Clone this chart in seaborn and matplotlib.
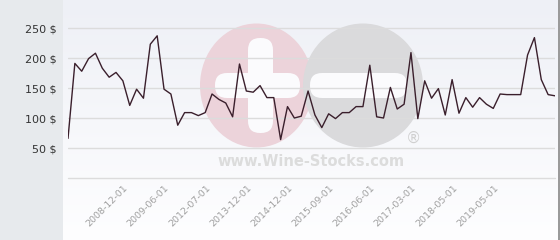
import numpy as np
import pandas as pd
import matplotlib
matplotlib.use("Agg")
import matplotlib.pyplot as plt
from matplotlib.patches import Ellipse, FancyBboxPatch, Rectangle
import seaborn as sns

# ---- data ----
prices = [66, 191, 178, 199, 208, 183, 168, 176, 162, 121, 148, 133, 223, 237, 148, 140,
          88, 109, 109, 104, 109, 140, 131, 125, 102, 190, 145, 143, 154, 134, 134, 64,
          119, 100, 103, 145, 105, 84, 107, 99, 109, 109, 119, 119, 188, 102, 100, 151,
          115, 123, 209, 99, 162, 133, 149, 105, 164, 108, 134, 118, 134, 123, 116, 140,
          139, 139, 139, 205, 234, 164, 139, 137]
tick_labels = ["2008-12-01", "2009-06-01", "2012-07-01", "2013-12-01", "2014-12-01",
               "2015-09-01", "2016-06-01", "2017-03-01", "2018-05-01", "2019-05-01"]
tick_start = 9
tick_step = 6
y_ticks = [50, 100, 150, 200, 250]

df = pd.DataFrame({"idx": np.arange(len(prices)), "price": prices})

sns.set_theme(style="white")
plt.rcParams['font.family'] = ['DejaVu Sans']

W, H = 560, 240
fig = plt.figure(figsize=(W / 100, H / 100), dpi=100)
fig.patch.set_facecolor("white")

# background / decoration axes in pixel coords
bg = fig.add_axes([0, 0, 1, 1], zorder=0)
bg.set_xlim(0, W)
bg.set_ylim(H, 0)
bg.axis("off")
grad = np.linspace(0, 1, 256).reshape(-1, 1)
top = np.array([238, 240, 246]) / 255
bot = np.array([254, 254, 255]) / 255
img = top[None, None, :] * (1 - grad[:, :, None]) + bot[None, None, :] * grad[:, :, None]
bg.imshow(img, extent=(63, 559, H, 0), aspect="auto", zorder=0)
bg.add_patch(Rectangle((0, 0), 63, H, color="#e7eaed", zorder=1, lw=0))
bg.add_patch(Rectangle((558, 0), 2, H, color="#9a9a9a", zorder=1, lw=0))

# watermark
bg.add_patch(Ellipse((256.5, 85.5), 113, 124, color="#ecd3da", zorder=2, lw=0))
bg.add_patch(Ellipse((363, 85.5), 120, 124, color="#dadadc", zorder=3, lw=0))
bg.add_patch(FancyBboxPatch((248 + 12, 38 + 12), 25 - 24, 95 - 24,
                            boxstyle="round,pad=12", color="#fbfbfd", zorder=4, lw=0))
bg.add_patch(FancyBboxPatch((215 + 12, 73 + 12), 85 - 24, 25 - 24,
                            boxstyle="round,pad=12", color="#fbfbfd", zorder=4, lw=0))
bg.add_patch(FancyBboxPatch((310 + 12, 73 + 12), 97 - 24, 25 - 24,
                            boxstyle="round,pad=12", color="#fbfbfd", zorder=4, lw=0))
bg.text(311, 162, "www.Wine-Stocks.com", ha="center", va="center",
        fontsize=10.5, fontweight="bold", color="#dcdcdc", zorder=5)
bg.text(413, 138, "\u00ae", ha="center", va="center",
        fontsize=11, color="#d0d0d0", zorder=5)

# main chart axes
ax = fig.add_axes([68 / W, 1 - 178 / H, (555 - 68) / W, 178 / H], zorder=1)
ax.set_facecolor("none")
sns.lineplot(data=df, x="idx", y="price", ax=ax, color="#3a1f2c", linewidth=1.0)
ax.set_xlim(0, len(prices) - 1)
ax.set_ylim(0, 296.7)
ax.set_yticks(y_ticks)
ax.set_yticklabels([f"{v} $" for v in y_ticks])
ax.grid(axis="y", color="#dcdcdc", linewidth=1)
ax.grid(axis="x", visible=False)
ax.axhline(0, color="#dcdcdc", linewidth=1, clip_on=False)
for s in ax.spines.values():
    s.set_visible(False)
ax.set_xlabel("")
ax.set_ylabel("")
ticks = [tick_start + i * tick_step for i in range(len(tick_labels))]
ax.set_xticks(ticks)
ax.set_xticklabels(tick_labels, rotation=45, ha="right", fontsize=6.8, color="#a0a0a0")
ax.tick_params(axis="x", length=0, pad=4)
ax.tick_params(axis="y", length=0, pad=8, labelsize=8, labelcolor="#333333")

fig.savefig("out.png", dpi=100)
